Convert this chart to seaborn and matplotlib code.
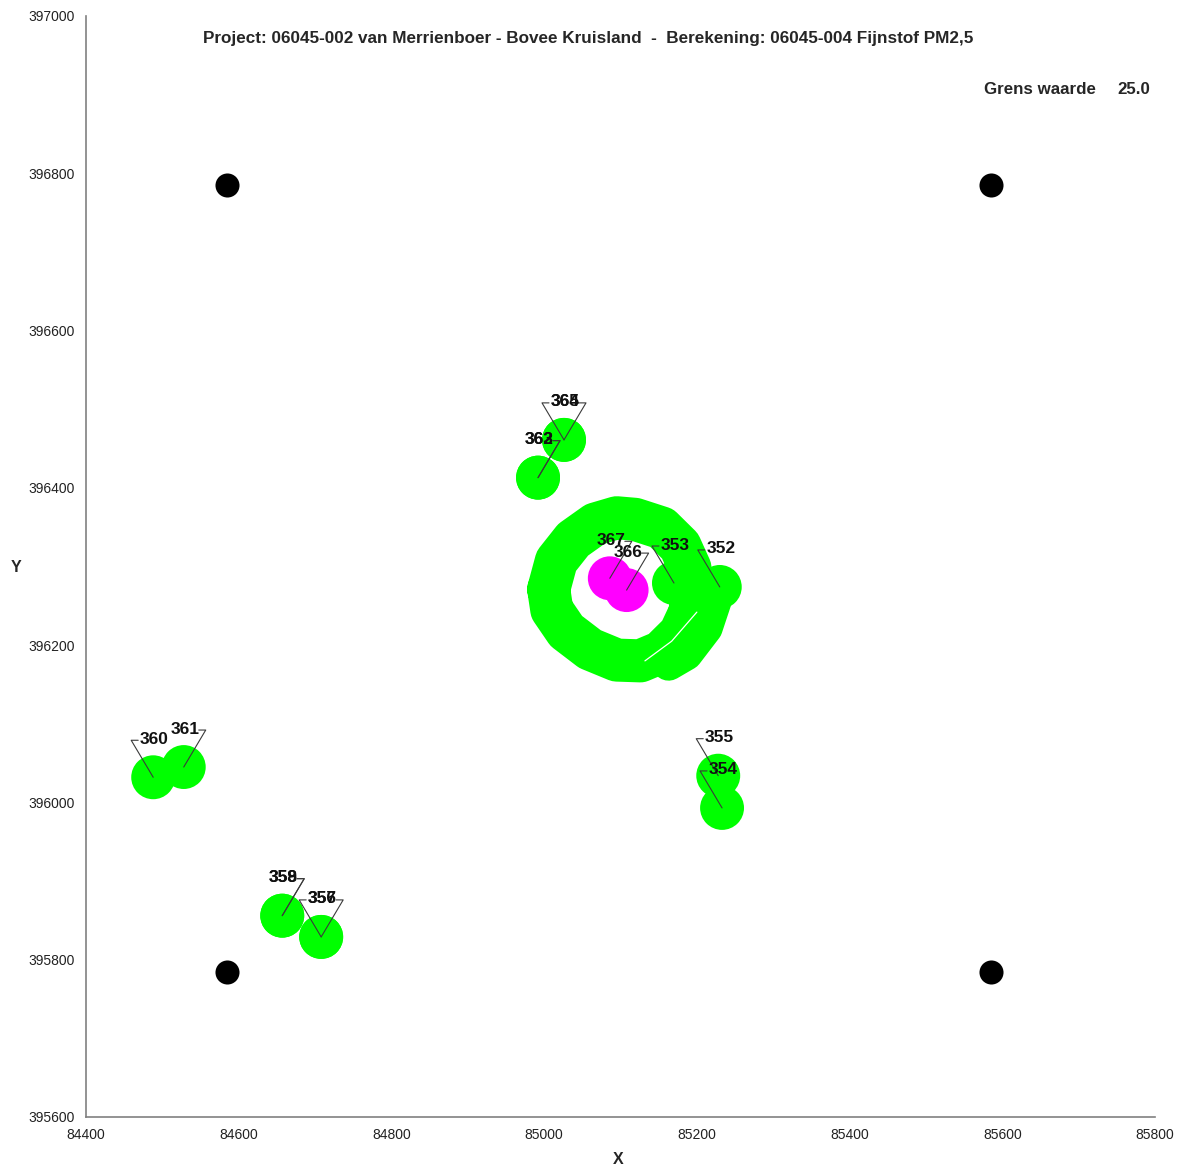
import matplotlib
matplotlib.use("Agg")
import matplotlib.pyplot as plt
import numpy as np
import pandas as pd
import seaborn as sns

# ---------------- data ----------------
title_text = ("Project: 06045-002 van Merrienboer - Bovee Kruisland  -  "
              "Berekening: 06045-004 Fijnstof PM2,5")
limit_label = "Grens waarde"
limit_value = "25.0"

receptor_ids = [352, 353, 354, 355, 356, 357, 358, 359, 360, 361, 362, 363, 364, 365, 366, 367]
receptor_x = [85230, 85170, 85233, 85228, 84708, 84708, 84657, 84657,
              84488, 84528, 84992, 84992, 85026, 85026, 85108, 85086]
receptor_y = [396274, 396279, 395993, 396034, 395829, 395829, 395856, 395856,
              396032, 396045, 396413, 396413, 396461, 396461, 396270, 396285]
receptor_class = ["onder", "onder", "onder", "onder", "onder", "onder", "onder", "onder",
                  "onder", "onder", "onder", "onder", "onder", "onder", "boven", "boven"]
label_side = ["ul", "ul", "ul", "ul", "ul", "ur", "ur", "ur",
              "ul", "ur", "ur", "ur", "ul", "ur", "ur", "ur"]

grid_x = [84585, 85585, 84585, 85585]
grid_y = [396785, 396785, 395785, 395785]

# road band (main loop)
road_x = [85006, 85016, 85038, 85067, 85095, 85119, 85154, 85178, 85191, 85194,
          85191, 85178, 85153, 85126, 85095, 85060, 85029, 85010, 85006]
road_y = [396271, 396307, 396334, 396354, 396362, 396360, 396349, 396326, 396298, 396268,
          396242, 396215, 396191, 396180, 396181, 396195, 396218, 396245, 396271]
# second (outer) carriageway, lower right
road2_x = [85225, 85212, 85186, 85163]
road2_y = [396260, 396222, 396189, 396176]

gap_x = [85200, 85167, 85132]
gap_y = [396242, 396205, 396180]

x_ticks = [84400, 84600, 84800, 85000, 85200, 85400, 85600, 85800]
y_ticks = [395600, 395800, 396000, 396200, 396400, 396600, 396800, 397000]

# ---------------- figure ----------------
sns.set_style("white")
plt.rcParams["font.family"] = ["Liberation Sans", "DejaVu Sans"]

W, H = 1181, 1174
fig = plt.figure(figsize=(W / 100, H / 100), dpi=100)
ax = fig.add_axes([86 / W, 1 - 1117 / H, (1155 - 86) / W, (1117 - 16) / H])
ax.set_xlim(x_ticks[0], x_ticks[-1])
ax.set_ylim(y_ticks[0], y_ticks[-1])

green = "#00FF00"
magenta = "#FF00FF"

# road contribution band
road_df = pd.DataFrame({"x": road_x, "y": road_y})
sns.lineplot(data=road_df, x="x", y="y", sort=False, estimator=None, ax=ax,
             color=green, linewidth=31.0, solid_capstyle="round",
             solid_joinstyle="round", zorder=2)
road2_df = pd.DataFrame({"x": road2_x, "y": road2_y})
sns.lineplot(data=road2_df, x="x", y="y", sort=False, estimator=None, ax=ax,
             color=green, linewidth=24.0, solid_capstyle="round",
             solid_joinstyle="round", zorder=2)
gap_df = pd.DataFrame({"x": gap_x, "y": gap_y})
sns.lineplot(data=gap_df, x="x", y="y", sort=False, estimator=None, ax=ax,
             color="white", linewidth=0.9, zorder=2.5)

# receptor points
rec_df = pd.DataFrame({"id": receptor_ids, "x": receptor_x, "y": receptor_y,
                       "klasse": receptor_class})
sns.scatterplot(data=rec_df, x="x", y="y", hue="klasse",
                palette={"onder": green, "boven": magenta},
                s=1000, linewidth=0, legend=False, ax=ax, zorder=3)

# grid corner points
grid_df = pd.DataFrame({"x": grid_x, "y": grid_y})
sns.scatterplot(data=grid_df, x="x", y="y", color="black", s=300,
                linewidth=0, legend=False, ax=ax, zorder=3)

# labels with leader lines (computed in pixel space)
inv = ax.transData.inverted()
for rid, x, y, side in zip(receptor_ids, receptor_x, receptor_y, label_side):
    px, py = ax.transData.transform((x, y))
    sgn = -1 if side == "ul" else 1
    ex, ey = px + sgn * 22, py + 37
    tx = ex - sgn * 7
    pts = inv.transform([(px, py), (ex, ey), (tx, ey)])
    ax.plot(pts[:, 0], pts[:, 1], color="#3a3a3a", linewidth=0.8, zorder=4)
    lx, ly = inv.transform((px + 1, py + 38))
    ax.text(lx, ly, str(rid), ha="center", va="center", fontsize=12.5,
            fontweight="bold", color="#111111", zorder=5)

# axes styling
for s in ["top", "right"]:
    ax.spines[s].set_visible(False)
for s in ["left", "bottom"]:
    ax.spines[s].set_color("#808080")
    ax.spines[s].set_linewidth(1.2)
ax.set_xticks(x_ticks)
ax.set_yticks(y_ticks)
ax.set_xticklabels([str(v) for v in x_ticks])
ax.set_yticklabels([str(v) for v in y_ticks])
ax.tick_params(axis="both", direction="inout", length=6, width=1.0,
               color="#606060", labelsize=10, labelcolor="#222222")
ax.tick_params(axis="y", pad=5)
ax.tick_params(axis="x", pad=5)
ax.set_xlabel("")
ax.set_ylabel("")

fig.text(618 / W, 1 - 1160 / H, "X", ha="center", va="center",
         fontsize=11.5, fontweight="bold")
fig.text(16 / W, 1 - 567 / H, "Y", ha="center", va="center",
         fontsize=11.5, fontweight="bold")
fig.text(588 / W, 1 - 39 / H, title_text, ha="center", va="center",
         fontsize=12.3, fontweight="bold")
fig.text(984 / W, 1 - 89 / H, limit_label, ha="left", va="center",
         fontsize=12.2, fontweight="bold")
fig.text(1150 / W, 1 - 89 / H, limit_value, ha="right", va="center",
         fontsize=12.2, fontweight="bold")

fig.savefig("out.png", dpi=100)
